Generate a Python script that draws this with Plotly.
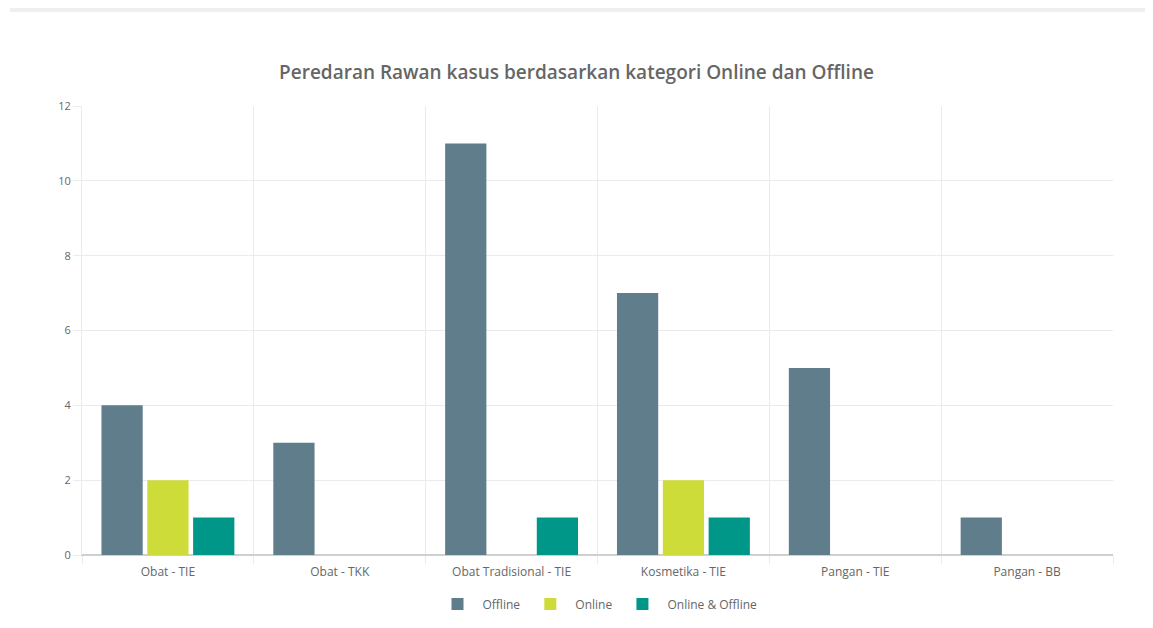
import plotly.graph_objects as go

categories = ["Obat - TIE", "Obat - TKK", "Obat Tradisional - TIE", "Kosmetika - TIE", "Pangan - TIE", "Pangan - BB"]
offline = [4, 3, 11, 7, 5, 1]
online = [2, 0, 0, 2, 0, 0]
online_offline = [1, 0, 1, 1, 0, 0]

series = [
    ("Offline", offline, "#607D8B"),
    ("Online", online, "#CDDC39"),
    ("Online & Offline", online_offline, "#009688"),
]

fig = go.Figure()
for name, vals, col in series:
    fig.add_trace(go.Bar(name=name, x=categories, y=vals, marker=dict(color=col, line=dict(width=0))))

# page body has an 8px margin; figure sized so page fits the 1153x628 window
W, H = 1137, 612
ml, mr, mt, mb = 74, 32, 98, 65
pw = W - ml - mr
ph = H - mt - mb

fig.update_layout(
    width=W, height=H,
    margin=dict(l=ml, r=mr, t=mt, b=mb, autoexpand=False),
    paper_bgcolor="white", plot_bgcolor="white",
    barmode="group", bargap=0.2, bargroupgap=0.1,
    font=dict(family="Open Sans, Lato, sans-serif", color="#666", size=11),
    title=dict(text="Peredaran Rawan kasus berdasarkan kategori Online dan Offline",
               x=0.5, xanchor="center", y=1 - 64 / H, yanchor="middle", yref="container",
               font=dict(family="Open Sans, sans-serif", size=19, color="#666", weight=600)),
    legend=dict(orientation="h", x=0.5, xanchor="center", y=1 - 596 / H, yanchor="middle",
                yref="container", font=dict(size=12, color="#666"), itemwidth=40, traceorder="normal"),
    xaxis=dict(type="category", tickson="boundaries", showgrid=True, gridcolor="#ebebeb",
               ticks="outside", ticklen=8, tickcolor="#ebebeb", showline=True, linecolor="#d0d0d0",
               tickfont=dict(size=12, color="#666"), ticklabelstandoff=6, mirror=False),
    yaxis=dict(range=[0, 12], dtick=2, showgrid=True, gridcolor="#ebebeb", zeroline=True,
               zerolinecolor="#cfcfcf", ticks="outside", ticklen=8, tickcolor="#ebebeb",
               showline=True, linecolor="#ebebeb", tickfont=dict(size=11, color="#666")),
    shapes=[
        dict(type="rect", xref="paper", yref="paper", x0=(2 - ml) / pw, x1=(W - ml) / pw,
             y0=(H - mb - 4) / ph, y1=(H - mb) / ph, fillcolor="#efefef", line=dict(width=0), layer="above"),
    ],
)

fig.write_html("out.html")
